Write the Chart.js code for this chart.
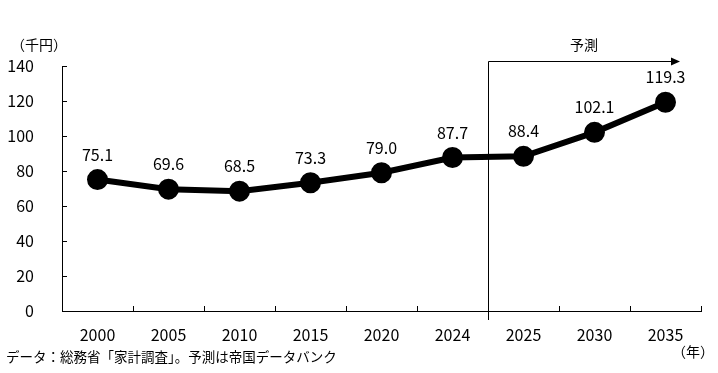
<!DOCTYPE html>
<html>
<head>
<meta charset="utf-8">
<script src="https://cdn.jsdelivr.net/npm/chart.js@4/dist/chart.umd.min.js"></script>
<style>
  body { margin: 0; background: #fff; }
  #wrap { width: 718px; height: 373px; }
</style>
</head>
<body>
<div id="wrap"><canvas id="grafico"></canvas></div>
<script>
const anos = ['2000', '2005', '2010', '2015', '2020', '2024', '2025', '2030', '2035'];
const valores = [75.1, 69.6, 68.5, 73.3, 79.0, 87.7, 88.4, 102.1, 119.3];
const ticks_y = [0, 20, 40, 60, 80, 100, 120, 140];
const inicio_previsao = 6; // indice de 2025

const fonte = '"Noto Sans CJK JP", "Noto Sans", sans-serif';

// desenha ticks internos, rotulos, linha de previsao e textos
const extras = {
    id: 'extras',
    afterDatasetsDraw(chart) {
        const ctx = chart.ctx;
        const xs = chart.scales.x;
        const ys = chart.scales.y;
        const area = chart.chartArea;
        ctx.save();
        ctx.strokeStyle = '#000';
        ctx.lineWidth = 1;

        // ticks do eixo y
        ticks_y.forEach(v => {
            const y = Math.round(ys.getPixelForValue(v)) + 0.5;
            ctx.beginPath();
            ctx.moveTo(area.left, y);
            ctx.lineTo(area.left + 5, y);
            ctx.stroke();
        });
        // ticks do eixo x (entre categorias)
        const passo = xs.getPixelForValue(1) - xs.getPixelForValue(0);
        for (let i = 1; i <= anos.length; i++) {
            const x = Math.round(xs.getPixelForValue(i) - passo / 2) + 0.5;
            ctx.beginPath();
            ctx.moveTo(x, area.bottom);
            ctx.lineTo(x, area.bottom - 5);
            ctx.stroke();
        }

        // linha de previsao com seta
        const xp = Math.round(xs.getPixelForValue(inicio_previsao) - passo / 2) + 0.5;
        const yTopo = 61.5;
        const xSeta = 680;
        ctx.beginPath();
        ctx.moveTo(xp, area.bottom + 9);
        ctx.lineTo(xp, yTopo);
        ctx.lineTo(xSeta - 6, yTopo);
        ctx.stroke();
        ctx.fillStyle = '#000';
        ctx.beginPath();
        ctx.moveTo(xSeta, yTopo);
        ctx.lineTo(xSeta - 9, yTopo - 4);
        ctx.lineTo(xSeta - 9, yTopo + 4);
        ctx.closePath();
        ctx.fill();

        ctx.font = '14px ' + fonte;
        ctx.textAlign = 'center';
        ctx.textBaseline = 'middle';
        ctx.fillText('予測', 584, 45);

        // rotulos dos valores
        ctx.font = '16px ' + fonte;
        const meta = chart.getDatasetMeta(0);
        meta.data.forEach((p, i) => {
            ctx.fillText(valores[i].toFixed(1), p.x, p.y - 25);
        });

        // unidades e fonte
        ctx.font = '14px ' + fonte;
        ctx.fillText('（千円）', 39, 45);
        ctx.fillText('（年）', 693, 352);
        ctx.font = '13.5px ' + fonte;
        ctx.textAlign = 'left';
        ctx.fillText('データ：総務省「家計調査」。予測は帝国データバンク', 6, 357);
        ctx.restore();
    }
};

const ctx = document.getElementById('grafico').getContext('2d');
const grafico = new Chart(ctx, {
    type: 'line',
    data: {
        labels: anos,
        datasets: [{
            data: valores,
            borderColor: '#000',
            backgroundColor: '#000',
            borderWidth: 6,
            pointRadius: 7.5,
            pointHoverRadius: 7.5,
            tension: 0
        }]
    },
    options: {
        responsive: true,
        maintainAspectRatio: false,
        animation: false,
        layout: { padding: { left: 0, right: 17, top: 66, bottom: 22 } },
        plugins: { legend: { display: false }, tooltip: { enabled: false } },
        scales: {
            x: {
                offset: true,
                grid: { display: false },
                border: { display: true, color: '#000', width: 1 },
                ticks: { color: '#000', font: { family: fonte, size: 16 }, padding: 6, maxRotation: 0 },
                afterFit(scale) { scale.height = 40; }
            },
            y: {
                min: 0,
                max: 140,
                grid: { display: false },
                border: { display: true, color: '#000', width: 1 },
                ticks: { stepSize: 20, color: '#000', font: { family: fonte, size: 16 }, padding: 20 },
                afterFit(scale) { scale.width = 62; }
            }
        }
    },
    plugins: [extras]
});
</script>
</body>
</html>
